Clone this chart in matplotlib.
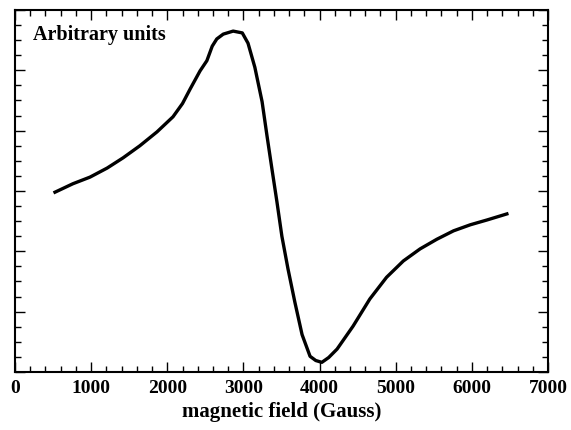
import numpy as np
import matplotlib.pyplot as plt
from matplotlib.ticker import MultipleLocator

# derivative-type absorption signal
field = [525, 760, 985, 1210, 1420, 1640, 1865, 2075, 2200, 2300, 2430, 2520,
         2590, 2650, 2735, 2865, 2985, 3060, 3150, 3245, 3310, 3375, 3440, 3505,
         3585, 3675, 3770, 3875, 3950, 4030, 4120, 4230, 4440, 4660, 4880, 5100,
         5320, 5540, 5760, 5980, 6200, 6460]
signal = [2.98, 3.12, 3.23, 3.38, 3.55, 3.75, 3.98, 4.23, 4.45, 4.69, 4.99, 5.16,
          5.40, 5.52, 5.60, 5.65, 5.62, 5.45, 5.05, 4.48, 3.91, 3.36, 2.82, 2.25,
          1.71, 1.16, 0.62, 0.26, 0.19, 0.16, 0.24, 0.38, 0.76, 1.21, 1.57, 1.84,
          2.04, 2.20, 2.34, 2.44, 2.52, 2.62]

plt.rcParams['font.family'] = ['Liberation Serif', 'DejaVu Serif']
plt.rcParams['font.weight'] = 'bold'

fig = plt.figure(figsize=(5.71, 4.31), dpi=100)
ax = fig.add_axes([0.0263, 0.1346, 0.9334, 0.8399])

ax.plot(field, signal, color='black', linewidth=2.4)

ax.set_xlim(0, 7000)
ax.set_ylim(0, 6)
ax.xaxis.set_major_locator(MultipleLocator(1000))
ax.xaxis.set_minor_locator(MultipleLocator(200))
ax.yaxis.set_major_locator(MultipleLocator(1))
ax.yaxis.set_minor_locator(MultipleLocator(0.25))
ax.tick_params(which='both', direction='in', top=True, right=True, width=1.0)
ax.tick_params(which='major', length=7, labelsize=14, pad=5)
ax.tick_params(which='minor', length=4)
ax.set_yticklabels([])
for lab in ax.get_xticklabels():
    lab.set_fontweight('bold')
for s in ax.spines.values():
    s.set_linewidth(1.5)

ax.set_xlabel('magnetic field (Gauss)', fontsize=15, fontweight='bold', labelpad=4)
ax.text(0.033, 0.962, 'Arbitrary units', transform=ax.transAxes, fontsize=14.5,
        fontweight='bold', va='top', ha='left')

fig.savefig('out.png', dpi=100)
